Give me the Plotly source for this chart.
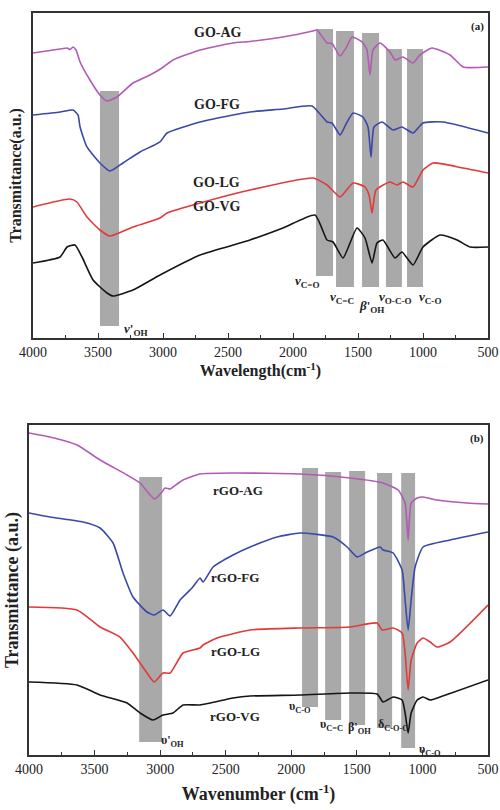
import plotly.graph_objects as go

# ---------------- Panel (a): GO spectra (wavelength cm-1, transmittance a.u.)
GO_AG_WN = [4000, 3792, 3738, 3715, 3692, 3669, 3638, 3562, 3485, 3431, 3354, 3231, 3100, 3008, 2923, 2715, 2462, 2331, 2077, 1846, 1815, 1738, 1700, 1638, 1592, 1546, 1469, 1431, 1408, 1385, 1331, 1254, 1215, 1154, 1077, 1023, 931, 792, 692, 500]
GO_AG_T = [285, 289, 290, 288.5, 291, 288, 276, 258, 243, 237, 241, 255, 263, 270, 278, 288, 295, 296.5, 301, 307, 308, 295, 294.5, 282, 290, 301, 296, 288, 263, 288, 295, 286, 278, 281, 275, 283, 290, 283, 271, 271]

GO_FG_WN = [4000, 3792, 3692, 3654, 3638, 3585, 3485, 3408, 3308, 3177, 3023, 2969, 2715, 2462, 2331, 2077, 1854, 1738, 1700, 1638, 1592, 1538, 1462, 1423, 1400, 1377, 1315, 1231, 1162, 1077, 1000, 846, 500]
GO_FG_T = [223, 226, 228, 223, 211, 191, 175, 167, 175, 186, 196, 205, 216, 223, 226, 229, 232, 216, 215, 203, 214, 225, 221, 211, 181, 211, 216, 208, 211, 205, 215, 216, 205]

GO_LG_WN = [4000, 3715, 3662, 3585, 3485, 3408, 3231, 3023, 2969, 2715, 2331, 1846, 1738, 1638, 1538, 1446, 1415, 1392, 1362, 1254, 1200, 1154, 1077, 1000, 923, 692, 500]
GO_LG_T = [131, 139, 136, 121, 108, 102, 111, 120, 125, 135, 148, 160, 153, 141, 155, 151, 143, 125, 148, 156, 153, 156, 151, 168, 175, 170, 165]

GO_VG_WN = [4000, 3792, 3738, 3677, 3623, 3538, 3431, 3385, 3231, 3023, 2715, 2331, 2077, 1831, 1738, 1692, 1615, 1508, 1446, 1392, 1354, 1308, 1215, 1162, 1077, 1000, 869, 738, 638, 500]
GO_VG_T = [75, 81, 91, 93, 81, 58, 45, 42, 48, 63, 83, 98, 110, 123, 98, 96, 80, 110, 100, 75, 95, 98, 80, 86, 73, 91, 103, 98, 91, 91]

# bands of panel (a): wavenumber limits and transmittance extents
A_BAND_HI = [3485, 1823, 1669, 1469, 1285, 1123]
A_BAND_LO = [3338, 1692, 1531, 1338, 1162, 1000]
A_BAND_TOP = [247, 309, 307, 305, 289, 289]
A_BAND_BOT = [12, 62, 51, 51, 51, 51]
A_BAND_TEXT = ["<i>ν</i>'<sub>OH</sub>", "<i>ν</i><sub>C=O</sub>", "<i>ν</i><sub>C=C</sub>",
               "<i>β</i>'<sub>OH</sub>", "<i>ν</i><sub>O-C-O</sub>", "<i>ν</i><sub>C-O</sub>"]
A_BAND_TX = [3208, 1890, 1623, 1400, 1208, 946]
A_BAND_TY = [9, 57, 41, 32, 41, 41]

A_NAMES = ["GO-AG", "GO-FG", "GO-LG", "GO-VG"]
A_NAME_X = [2580, 2585, 2585, 2585]
A_NAME_Y = [305, 233, 155, 131]

# ---------------- Panel (b): rGO spectra
RGO_AG_WN = [4000, 3840, 3634, 3458, 3252, 3153, 3077, 3039, 2986, 2963, 2925, 2902, 2825, 2696, 2444, 1933, 1551, 1300, 1185, 1132, 1109, 1086, 1040, 995, 888, 659, 500]
RGO_AG_T = [322, 318, 310, 295, 280, 272, 260, 256, 263, 267, 266, 268, 275, 281, 282, 281, 277, 272, 265, 252, 215, 252, 257, 258, 255, 252, 251]

RGO_FG_WN = [4000, 3840, 3588, 3458, 3359, 3283, 3207, 3100, 3046, 2978, 2924, 2848, 2757, 2696, 2673, 2596, 2444, 2314, 2108, 1933, 1681, 1574, 1498, 1422, 1322, 1300, 1223, 1155, 1132, 1109, 1086, 1056, 995, 789, 500]
RGO_FG_T = [242, 238, 233, 227, 212, 182, 158, 143, 140, 145, 139, 155, 167, 177, 173, 188, 200, 208, 218, 222, 218, 208, 198, 203, 208, 205, 202, 185, 155, 125, 155, 188, 208, 215, 223]

RGO_LG_WN = [4000, 3634, 3458, 3306, 3207, 3100, 3046, 2978, 2924, 2825, 2696, 2673, 2566, 2314, 1933, 1551, 1345, 1307, 1223, 1155, 1132, 1109, 1086, 1040, 995, 941, 888, 789, 500]
RGO_LG_T = [148, 145, 128, 118, 102, 82, 73, 82, 82, 102, 107, 110, 117, 125, 127, 128, 132, 125, 127, 122, 102, 65, 95, 112, 117, 113, 108, 113, 150]

RGO_VG_WN = [4000, 3634, 3458, 3252, 3153, 3054, 2978, 2902, 2825, 2696, 2444, 2314, 1933, 1551, 1345, 1300, 1223, 1155, 1132, 1109, 1086, 1040, 995, 941, 865, 500]
RGO_VG_T = [73, 70, 60, 52, 42, 35, 40, 42, 50, 50, 57, 59, 60, 62, 61, 53, 58, 55, 42, 22, 42, 55, 58, 55, 58, 75]

B_BAND_HI = [3160, 1918, 1742, 1559, 1346, 1162]
B_BAND_LO = [2985, 1796, 1620, 1437, 1231, 1056]
B_BAND_TOP = [278, 287, 283, 284, 282, 282]
B_BAND_BOT = [13, 48, 35, 30, 27, 7]
B_BAND_TEXT = ["υ'<sub>OH</sub>", "υ<sub>C-O</sub>", "υ<sub>C=C</sub>",
               "β'<sub>OH</sub>", "δ<sub>C-O-C</sub>", "υ<sub>C-O</sub>"]
B_BAND_TX = [2909, 1934, 1690, 1482, 1228, 945]
B_BAND_TY = [14, 48, 30, 27, 30, 5]

B_NAMES = ["rGO-AG", "rGO-FG", "rGO-LG", "rGO-VG"]
B_NAME_X = [2406, 2429, 2429, 2429]
B_NAME_Y = [265, 178, 104, 38]

COLORS = ["#b25ab4", "#3a48a8", "#e23a3a", "#151515"]
FONT = "Liberation Serif, Times New Roman, serif"

fig = go.Figure()
a_series = [(GO_AG_WN, GO_AG_T), (GO_FG_WN, GO_FG_T), (GO_LG_WN, GO_LG_T), (GO_VG_WN, GO_VG_T)]
b_series = [(RGO_AG_WN, RGO_AG_T), (RGO_FG_WN, RGO_FG_T), (RGO_LG_WN, RGO_LG_T), (RGO_VG_WN, RGO_VG_T)]
for (wx, wy), c, n in zip(a_series, COLORS, A_NAMES):
    fig.add_trace(go.Scatter(x=wx, y=wy, mode="lines",
                             line=dict(color=c, width=1.6, shape="spline", smoothing=0.5),
                             name=n, xaxis="x", yaxis="y", showlegend=False))
for (wx, wy), c, n in zip(b_series, COLORS, B_NAMES):
    fig.add_trace(go.Scatter(x=wx, y=wy, mode="lines",
                             line=dict(color=c, width=1.6, shape="spline", smoothing=0.5),
                             name=n, xaxis="x2", yaxis="y2", showlegend=False))

shapes = []
for hi, lo, t, b in zip(A_BAND_HI, A_BAND_LO, A_BAND_TOP, A_BAND_BOT):
    shapes.append(dict(type="rect", xref="x", yref="y", x0=hi, x1=lo, y0=b, y1=t,
                       fillcolor="#a9a9a9", line=dict(width=0), layer="below"))
for hi, lo, t, b in zip(B_BAND_HI, B_BAND_LO, B_BAND_TOP, B_BAND_BOT):
    shapes.append(dict(type="rect", xref="x2", yref="y2", x0=hi, x1=lo, y0=b, y1=t,
                       fillcolor="#a9a9a9", line=dict(width=0), layer="below"))

ann = []
for txt, x, y in zip(A_BAND_TEXT, A_BAND_TX, A_BAND_TY):
    ann.append(dict(text="<b>" + txt + "</b>", x=x, y=y, xref="x", yref="y", showarrow=False,
                    font=dict(family=FONT, size=13, color="#222")))
for txt, x, y in zip(B_BAND_TEXT, B_BAND_TX, B_BAND_TY):
    ann.append(dict(text="<b>" + txt + "</b>", x=x, y=y, xref="x2", yref="y2", showarrow=False,
                    font=dict(family=FONT, size=12, color="#222")))
for txt, x, y in zip(A_NAMES, A_NAME_X, A_NAME_Y):
    ann.append(dict(text="<b>" + txt + "</b>", x=x, y=y, xref="x", yref="y", showarrow=False,
                    font=dict(family=FONT, size=14, color="#222")))
for txt, x, y in zip(B_NAMES, B_NAME_X, B_NAME_Y):
    ann.append(dict(text="<b>" + txt + "</b>", x=x, y=y, xref="x2", yref="y2", showarrow=False,
                    font=dict(family=FONT, size=13, color="#222")))
ann.append(dict(text="<b>(a)</b>", x=0.995, y=0.985, xref="x domain", yref="y domain",
                xanchor="right", yanchor="top", showarrow=False, font=dict(family=FONT, size=11, color="#222")))
ann.append(dict(text="<b>(b)</b>", x=0.995, y=0.985, xref="x2 domain", yref="y2 domain",
                xanchor="right", yanchor="top", showarrow=False, font=dict(family=FONT, size=11, color="#222")))

xcommon = dict(range=[4000, 500], showline=True, mirror=True, linecolor="#333", linewidth=1.5,
               ticks="inside", ticklen=5, tickcolor="#333", tick0=500, dtick=500,
               minor=dict(ticks="inside", ticklen=3, dtick=250, tick0=500, tickcolor="#333"),
               showgrid=False, zeroline=False, automargin=False,
               tickfont=dict(family=FONT, size=14, color="#222"))
ycommon = dict(showline=True, mirror=True, linecolor="#333", linewidth=1.5, ticks="",
               showticklabels=False, showgrid=False, zeroline=False, automargin=False)

fig.update_layout(
    width=500, height=810, margin=dict(l=0, r=0, t=0, b=0),
    plot_bgcolor="white", paper_bgcolor="white",
    shapes=shapes, annotations=ann,
    xaxis=dict(xcommon, domain=[0.066, 0.976], anchor="y",
               title=dict(text="<b>Wavelength(cm<sup>-1</sup>)</b>", standoff=2,
                          font=dict(family=FONT, size=16, color="#222"))),
    yaxis=dict(ycommon, domain=[0.5827, 0.984], range=[0, 325], anchor="x",
               title=dict(text="<b>Transmittance(a.u.)</b>", standoff=6,
                          font=dict(family=FONT, size=16, color="#222"))),
    xaxis2=dict(xcommon, domain=[0.058, 0.976], anchor="y2",
                title=dict(text="<b>Wavenumber (cm<sup>-1</sup>)</b>", standoff=12,
                           font=dict(family=FONT, size=18, color="#222"))),
    yaxis2=dict(ycommon, domain=[0.0679, 0.4753], range=[0, 330], anchor="x2",
                title=dict(text="<b>Transmittance (a.u.)</b>", standoff=4,
                           font=dict(family=FONT, size=18, color="#222"))),
)

fig.write_html("out.html", config={"displayModeBar": False},
               post_script="document.body.style.margin='0';")
